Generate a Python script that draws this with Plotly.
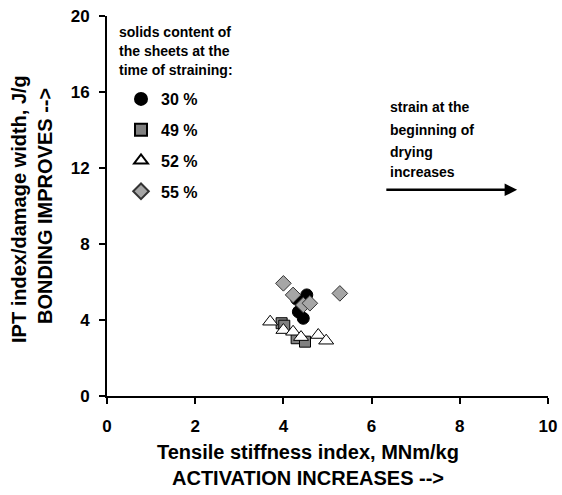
import plotly.graph_objects as go

x30 = [4.30, 4.53, 4.41, 4.34, 4.45]
y30 = [5.10, 5.32, 4.88, 4.43, 4.09]
x49 = [3.96, 4.02, 4.30, 4.49]
y49 = [3.83, 3.70, 3.04, 2.86]
x52 = [3.70, 4.00, 4.22, 4.40, 4.79, 4.97]
y52 = [3.91, 3.47, 3.38, 3.10, 3.21, 2.91]
x55 = [4.00, 4.22, 4.45, 4.60, 5.28]
y55 = [5.93, 5.32, 4.79, 4.88, 5.40]

legend_title = ["solids content of", "the sheets at the", "time of straining:"]
note_lines = ["strain at the", "beginning of", "drying", "increases"]
x_title = ["Tensile stiffness index, MNm/kg", "ACTIVATION INCREASES -->"]
y_title = ["IPT index/damage width, J/g", "BONDING IMPROVES -->"]

FONT = "Liberation Sans, Arial, sans-serif"
W, H = 562, 495
PL, PR, PT, PB = 107, 548, 16, 396
L, T, R, B = PL, PT, W - PR, H - PB
PW, PH = PR - PL, PB - PT


def px_x(p):
    return (p - PL) / PW


def px_y(p):
    return (PB - p) / PH


fig = go.Figure()
series = [
    ("30 %", x30, y30, dict(symbol="circle", size=12, color="black", line=dict(color="black", width=1))),
    ("49 %", x49, y49, dict(symbol="square", size=11, color="#808080", line=dict(color="black", width=1))),
    ("52 %", x52, y52, dict(symbol="triangle-up", size=13, color="white", line=dict(color="black", width=1))),
    ("55 %", x55, y55, dict(symbol="diamond", size=12, color="#a6a6a6", line=dict(color="#333333", width=1))),
]
for name, xs, ys, mk in series:
    fig.add_trace(go.Scatter(x=xs, y=ys, mode="markers", name=name, marker=mk, legendgroup=name))

axis_common = dict(showgrid=False, zeroline=False, showline=True, linecolor="black", linewidth=2,
                   ticks="outside", ticklen=6, tickwidth=2, tickcolor="black",
                   tickfont=dict(size=17, family=FONT, color="black", weight="bold"),
                   automargin=False)

fig.update_layout(
    width=W, height=H,
    margin=dict(l=L, r=R, t=T, b=B, autoexpand=False),
    paper_bgcolor="white", plot_bgcolor="white",
    font=dict(family=FONT, color="black"),
    showlegend=True,
    legend=dict(
        x=px_x(121), y=px_y(82), xanchor="left", yanchor="top",
        font=dict(size=16, family=FONT, color="black", weight="bold"),
        tracegroupgap=7, itemwidth=30, bgcolor="rgba(0,0,0,0)",
        itemsizing="constant",
    ),
    xaxis=dict(range=[0, 10], tickvals=[0, 2, 4, 6, 8, 10], ticklabelstandoff=8, **axis_common),
    yaxis=dict(range=[0, 20], tickvals=[0, 4, 8, 12, 16, 20], ticklabelstandoff=6, **axis_common),
)

for text, yc in zip(x_title, [452, 478]):
    fig.add_annotation(x=px_x(308), y=px_y(yc), xref="paper", yref="paper", text=f"<b>{text}</b>",
                       showarrow=False, xanchor="center", yanchor="middle",
                       font=dict(size=20, family=FONT, color="black"))
for text, xc, yc in zip(y_title, [19, 45], [209, 206]):
    fig.add_annotation(x=px_x(xc), y=px_y(yc), xref="paper", yref="paper", text=f"<b>{text}</b>",
                       showarrow=False, xanchor="center", yanchor="middle", textangle=-90,
                       font=dict(size=20, family=FONT, color="black"))

for text, yc in zip(legend_title, [32, 51, 70]):
    fig.add_annotation(x=px_x(117), y=px_y(yc), xref="paper", yref="paper", text=f"<b>{text}</b>",
                       showarrow=False, xanchor="left", yanchor="middle",
                       font=dict(size=14, family=FONT, color="black"))

for text, yc in zip(note_lines, [107, 130, 152, 172]):
    fig.add_annotation(x=px_x(388), y=px_y(yc), xref="paper", yref="paper", text=f"<b>{text}</b>",
                       showarrow=False, xanchor="left", yanchor="middle",
                       font=dict(size=14, family=FONT, color="black"))
fig.add_annotation(x=9.3, y=10.85, ax=6.3, ay=10.85, xref="x", yref="y", axref="x", ayref="y",
                   text="", showarrow=True, arrowhead=2, arrowsize=1, arrowwidth=2.5,
                   arrowcolor="black")

fig.write_html("out.html", config={"displayModeBar": False},
               post_script="document.body.style.margin='0';document.body.style.overflow='hidden';")
